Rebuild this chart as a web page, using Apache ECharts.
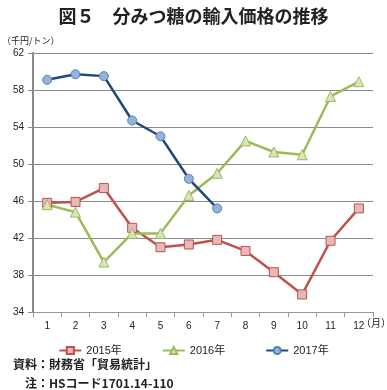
<!DOCTYPE html>
<html><head><meta charset="utf-8">
<script src="https://cdn.jsdelivr.net/npm/echarts@6/dist/echarts.min.js"></script>
<style>html,body{margin:0;padding:0;background:#fff}#c{width:387px;height:390px}</style>
</head><body><div id="c"></div>
<script>
const months = ['1','2','3','4','5','6','7','8','9','10','11','12'];
const s2015 = [45.8,45.9,47.4,43.1,41.0,41.3,41.8,40.6,38.3,35.9,41.7,45.2];
const s2016 = [45.6,44.8,39.4,42.5,42.5,46.6,49.0,52.5,51.3,51.0,57.3,58.9];
const s2017 = [59.1,59.7,59.5,54.7,53.0,48.4,45.2];
const yTicks = [34,38,42,46,50,54,58,62];
const font = '"Liberation Sans","DejaVu Sans","Noto Sans CJK JP",sans-serif';
const jp = '"Noto Sans CJK JP",sans-serif';
const chart = echarts.init(document.getElementById('c'));
chart.setOption({
  animation:false,
  textStyle:{fontFamily:font},
  title:{text:'図５　分みつ糖の輸入価格の推移',left:'center',top:2,textStyle:{fontFamily:jp,fontSize:18,fontWeight:'bold',color:'#222'}},
  graphic:[
    {type:'text',left:2,top:36,style:{text:'（千円/トン）',fontFamily:jp,fontSize:9,fill:'#222'}},
    {type:'text',left:361,top:318,style:{text:'（月）',fontFamily:jp,fontSize:10,fill:'#222'}},
    {type:'text',left:13,top:358,style:{text:'資料：財務省「貿易統計」',fontFamily:jp,fontSize:12,fontWeight:'bold',fill:'#222'}},
    {type:'text',left:25,top:377,style:{text:'注：HSコード1701.14-110',fontFamily:jp,fontSize:12,fontWeight:'bold',fill:'#222'}}
  ],
  legend:{top:340,left:'center',itemGap:40,itemWidth:22,itemHeight:9,
    textStyle:{fontFamily:font,fontSize:11,color:'#222'},
    data:['2015年','2016年','2017年']},
  grid:{left:33,right:14,top:53,bottom:78},
  xAxis:{type:'category',data:months,boundaryGap:true,
    axisLine:{lineStyle:{color:'#999',width:1}},
    axisTick:{show:true,length:5,lineStyle:{color:'#999'}},
    axisLabel:{color:'#222',fontSize:10,margin:9},
    splitLine:{show:false}},
  yAxis:{type:'value',min:34,max:62,interval:4,
    axisLine:{show:true,lineStyle:{color:'#888',width:2}},
    axisTick:{show:true,length:5,lineStyle:{color:'#888'}},
    axisLabel:{color:'#222',fontSize:10,margin:9,formatter:v=>yTicks.includes(v)?String(v):''},
    splitLine:{lineStyle:{color:'#8a8a8a',width:1}}},
  series:[
    {name:'2015年',type:'line',data:s2015,symbol:'rect',symbolSize:9,
      lineStyle:{color:'#C0504D',width:2.5},itemStyle:{color:'#E6B9B8',borderColor:'#C0504D',borderWidth:1}},
    {name:'2016年',type:'line',data:s2016,symbol:'triangle',symbolSize:10,
      lineStyle:{color:'#9BBB59',width:2.5},itemStyle:{color:'#D7E4BD',borderColor:'#9BBB59',borderWidth:1}},
    {name:'2017年',type:'line',data:s2017,symbol:'circle',symbolSize:9,
      lineStyle:{color:'#1F497D',width:2.5},itemStyle:{color:'#95B3D7',borderColor:'#4F81BD',borderWidth:1}}
  ]
});
</script></body></html>
